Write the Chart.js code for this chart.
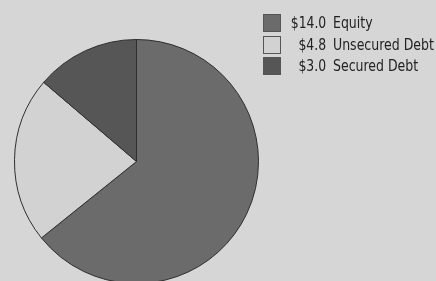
<!DOCTYPE html>
<html>
<head>
<meta charset="utf-8">
<script src="https://cdn.jsdelivr.net/npm/chart.js@4"></script>
<style>
  html, body { margin: 0; padding: 0; overflow: hidden; background: #d6d6d6; }
  #wrap { position: relative; width: 436px; height: 300px; }
  #legend { position: absolute; left: 263px; top: 14px; font-family: "DejaVu Sans Condensed", "Liberation Sans Narrow", sans-serif; font-size: 16px; color: #222; }
  .row { position: relative; height: 21.5px; }
  .box { position: absolute; left: 0; top: 0; width: 16px; height: 16px; border: 1px solid #555; box-sizing: content-box; }
  .val { position: absolute; right: -63px; top: -1px; text-align: right; white-space: nowrap; transform: scaleX(0.86); transform-origin: right center; }
  .lab { position: absolute; left: 70px; top: -1px; white-space: nowrap; transform: scaleX(0.87); transform-origin: left center; }
</style>
</head>
<body>
<div id="wrap">
  <canvas id="grafico" width="436" height="300"></canvas>
  <div id="legend"></div>
</div>
<script>
// === Dados ===
const categorias = ["Equity", "Unsecured Debt", "Secured Debt"];
const valores = [14.0, 4.8, 3.0];
const cores = ["#6b6b6b", "#d2d2d2", "#565656"];

// === Legenda ===
const legenda = document.getElementById("legend");
legenda.innerHTML = categorias.map((c, i) =>
    `<div class="row"><div class="box" style="background:${cores[i]}"></div>` +
    `<span class="val">$${valores[i].toFixed(1)}</span><span class="lab">${c}</span></div>`
).join("");

// === Gráfico ===
const ctx = document.getElementById("grafico").getContext("2d");
new Chart(ctx, {
    type: "pie",
    data: {
        labels: categorias,
        datasets: [{
            data: valores,
            backgroundColor: cores,
            borderColor: "#2e2e2e",
            borderWidth: 1,
            hoverOffset: 0
        }]
    },
    options: {
        responsive: false,
        animation: false,
        layout: { padding: { left: 14, right: 177, top: 39, bottom: 16 } },
        plugins: {
            legend: { display: false },
            tooltip: { enabled: false }
        }
    }
});
</script>
</body>
</html>
